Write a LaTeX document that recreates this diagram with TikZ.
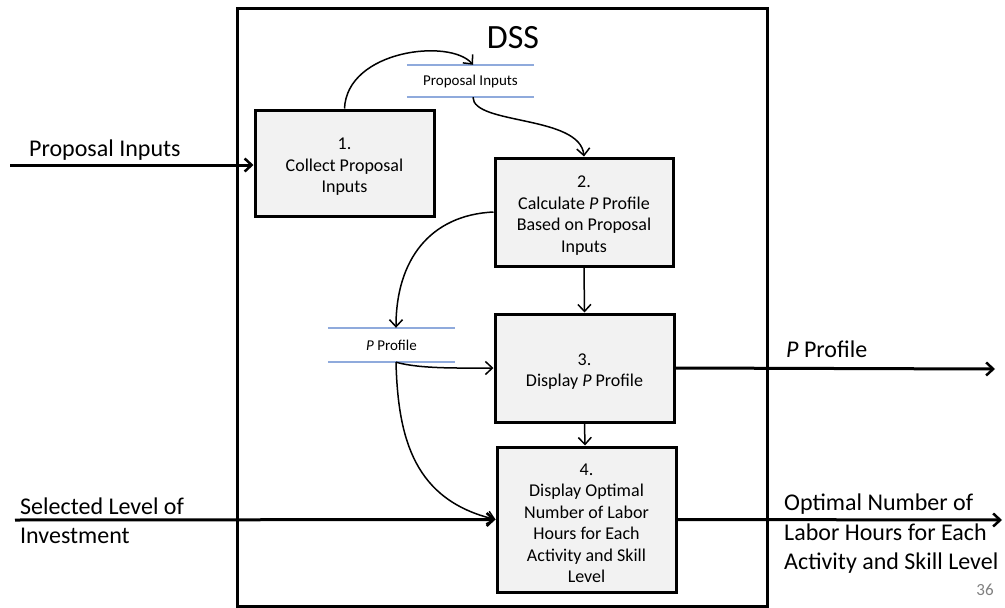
\documentclass[tikz,border=0pt]{standalone}
\usepackage{fontspec}
\setmainfont{Carlito}
\usetikzlibrary{arrows.meta}
\definecolor{boxfill}{HTML}{F2F2F2}
\definecolor{storeblue}{HTML}{8FAADC}
\newcommand{\topstrut}{\rule{0pt}{19pt}}
\tikzset{
  procbox/.style={draw=black, line width=3pt, fill=boxfill, align=center, inner sep=0pt,
    font=\fontsize{18}{21.4}\selectfont},
  storenode/.style={inner sep=0pt, font=\fontsize{15}{17}\selectfont},
  storeline/.style={draw=storeblue, line width=1.5pt},
  thinarrow/.style={draw=black, line width=1.5pt, -{Straight Barb[length=7pt,width=13pt,line width=1.5pt]}},
  thickarrow/.style={draw=black, line width=3pt, -{Straight Barb[length=7pt,width=13pt,line width=2.5pt]}},
  biglabel/.style={inner sep=0pt, align=left, font=\fontsize{24}{29.5}\selectfont},
}
\begin{document}
\begin{tikzpicture}[x=1pt,y=-1pt]
\useasboundingbox (0,0) rectangle (1005,608);
% outer DSS box
\draw[line width=3pt] (237,8) rectangle (767,606);
\node[inner sep=0pt, font=\fontsize{34}{40}\selectfont] (dss) at (513,38) {DSS};

% process boxes
\node[procbox, minimum width=179pt, minimum height=106pt] (b1) at (344.5,163) {\topstrut 1.\\Collect Proposal\\Inputs};
\node[procbox, minimum width=178pt, minimum height=108pt] (b2) at (584,212) {\topstrut 2.\\Calculate \textit{P} Profile\\Based on Proposal\\Inputs};
\node[procbox, minimum width=179pt, minimum height=108pt] (b3) at (584.5,368) {\topstrut 3.\\Display \textit{P} Profile};
\node[procbox, minimum width=179pt, minimum height=145pt] (b4) at (586.5,519.5) {\topstrut 4.\\Display Optimal\\Number of Labor\\Hours for Each\\Activity and Skill\\Level};

% data stores
\node[storenode, minimum width=127pt, minimum height=32pt] (s1) at (470.5,81) {Proposal Inputs};
\draw[storeline] (s1.north west) -- (s1.north east);
\draw[storeline] (s1.south west) -- (s1.south east);
\node[storenode, minimum width=127pt, minimum height=34pt] (s2) at (391.5,345) {\textit{P} Profile};
\draw[storeline] (s2.north west) -- (s2.north east);
\draw[storeline] (s2.south west) -- (s2.south east);

\coordinate (s1top) at ([xshift=2.5pt]s1.north);
\coordinate (s1bot) at ([xshift=2.5pt]s1.south);
\coordinate (s2top) at ([xshift=4.5pt]s2.north);
\coordinate (s2bot) at ([xshift=4.5pt]s2.south);

% internal connectors
\draw[thinarrow] (b1.north) .. controls (347,50) and (450,38) .. (s1top);
\draw[thinarrow] (s1bot) .. controls (473,125) and (580,115) .. (b2.north);
\draw[thinarrow] (b2.west) .. controls (430,215) and (396,260) .. (s2top);
\draw[thinarrow] (s2bot) .. controls (420,369) and (460,368) .. (b3.west);
\draw[thinarrow] (s2bot) .. controls (398,440) and (415,500) .. (b4.west);
\draw[thinarrow] (b2.south) -- (b3.north);
\draw[thinarrow] (b3.south) -- ([xshift=0.5pt]b3.south |- b4.north);

% external flows
\coordinate (in1) at (10,165);
\coordinate (in2) at (15,520);
\coordinate (out1) at (995,369);
\coordinate (out2) at (1002,520);
\draw[thickarrow] (in1) -- (in1 -| b1.west);
\draw[thickarrow] (in2) -- (b4.west);
\draw[thickarrow] (b3.east) -- (out1);
\draw[thickarrow] (b4.east) -- (out2);

% labels
\node[biglabel, anchor=west] (lpi) at (29,150) {Proposal Inputs};
\node[biglabel, anchor=west] (lsl) at (20,521) {Selected Level of\\Investment};
\node[biglabel, anchor=west] (lpp) at (786,349) {\textit{P} Profile};
\node[biglabel, anchor=west] (lon) at (784,534) {Optimal Number of\\Labor Hours for Each\\Activity and Skill Level};
\node[inner sep=0pt, text=gray, font=\fontsize{17}{19}\selectfont] (pg) at (985,590) {36};
\end{tikzpicture}
\end{document}
